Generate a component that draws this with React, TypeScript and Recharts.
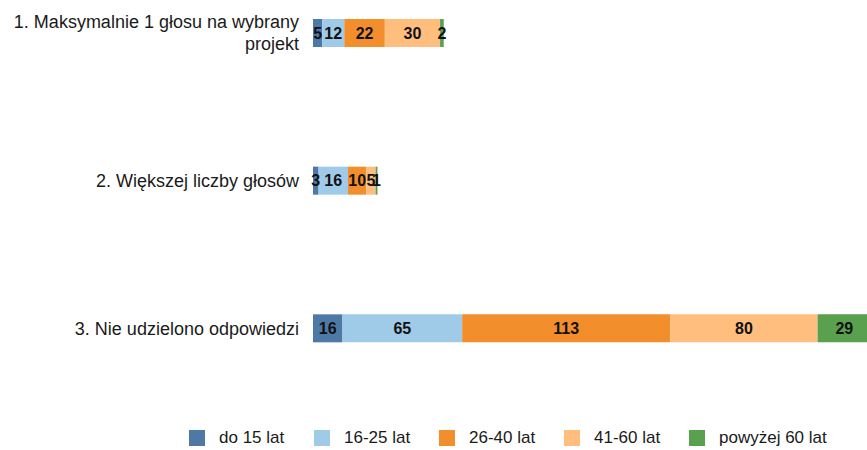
import React from 'react';
import { BarChart, Bar, XAxis, YAxis, LabelList, Text } from 'recharts';

const categories = [
  '1. Maksymalnie 1 głosu na wybrany projekt',
  '2. Większej liczby głosów',
  '3. Nie udzielono odpowiedzi',
];

const ageGroups = ['do 15 lat', '16-25 lat', '26-40 lat', '41-60 lat', 'powyżej 60 lat'];

const upTo15 = [5, 3, 16];
const age16to25 = [12, 16, 65];
const age26to40 = [22, 10, 113];
const age41to60 = [30, 5, 80];
const over60 = [2, 1, 29];

const seriesValues = [upTo15, age16to25, age26to40, age41to60, over60];
const colors = ['#4E79A7', '#A0CBE8', '#F28E2B', '#FFBE7D', '#59A14F'];

const font = 'Liberation Sans, Arial, sans-serif';

const data = categories.map((name, i) => {
  const row: Record<string, string | number> = { name };
  ageGroups.forEach((g, s) => {
    row[g] = seriesValues[s][i];
  });
  return row;
});

const CategoryTick = (props: any) => {
  const { x, y, payload } = props;
  return (
    <Text
      x={x}
      y={y}
      width={296}
      textAnchor="end"
      verticalAnchor="middle"
      lineHeight="22px"
      capHeight="13px"
      fill="#1a1a1a"
      style={{ fontSize: 18, fontFamily: font }}
    >
      {payload.value}
    </Text>
  );
};

export default function App() {
  return (
    <div
      style={{
        position: 'absolute',
        top: 0,
        left: 0,
        width: 867,
        height: 450,
        overflow: 'hidden',
        background: '#fff',
        fontFamily: font,
      }}
    >
      <div style={{ position: 'absolute', top: -41, left: 0 }}>
        <BarChart
          width={871}
          height={443}
          data={data}
          layout="vertical"
          margin={{ top: 0, right: 0, bottom: 0, left: 0 }}
          barSize={28}
        >
          <XAxis type="number" domain={[0, 303]} hide />
          <YAxis
            type="category"
            dataKey="name"
            width={313}
            axisLine={false}
            tickLine={false}
            tickSize={0}
            tickMargin={14}
            tick={<CategoryTick />}
          />
          {ageGroups.map((g, s) => (
            <Bar key={g} dataKey={g} stackId="a" fill={colors[s]} isAnimationActive={false}>
              <LabelList
                dataKey={g}
                position="center"
                fill="#111"
                fontSize={16}
                fontWeight="bold"
                fontFamily={font}
              />
            </Bar>
          ))}
        </BarChart>
      </div>
      <div style={{ position: 'absolute', top: 430, left: 189, display: 'flex' }}>
        {ageGroups.map((g, s) => (
          <div key={g} style={{ width: 125, height: 16, display: 'flex', alignItems: 'center' }}>
            <span style={{ width: 16, height: 16, background: colors[s], display: 'inline-block', flex: 'none' }} />
            <span style={{ marginLeft: 14, fontSize: 17, lineHeight: '16px', color: '#1a1a1a', whiteSpace: 'nowrap' }}>{g}</span>
          </div>
        ))}
      </div>
    </div>
  );
}
